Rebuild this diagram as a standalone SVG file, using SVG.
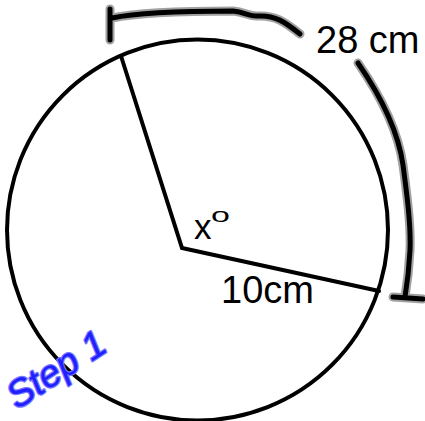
<svg xmlns="http://www.w3.org/2000/svg" width="425" height="421" viewBox="0 0 425 421">
<style>
.ln{fill:none;stroke:#000;stroke-width:4;stroke-linecap:round}
.halo{fill:none;stroke:#8a8a8a;stroke-width:9;stroke-linecap:round;stroke-linejoin:round;opacity:0.8}
.ink{fill:none;stroke:#000;stroke-width:5;stroke-linecap:round;stroke-linejoin:round}
.lbl{font-family:"Liberation Sans",Arial,sans-serif;fill:#000}
</style>
<rect width="425" height="421" fill="#fff"/>
<g id="circle">
<circle cx="197.5" cy="230" r="190.5" class="ln"/>
</g>
<g id="connectors">
<path class="ln" d="M121,56 L182,248 L379,291"/>
</g>
<g id="arc-marks">
<path class="halo" d="M110,9 L110,40 M112,18 C140,12 200,11 233,11 C245,12 250,17 258,16 C275,15 285,22 300,34"/>
<path class="ink" d="M110,9 L110,40 M112,18 C140,12 200,11 233,11 C245,12 250,17 258,16 C275,15 285,22 300,34"/>
<path class="halo" d="M358,63 C380,95 398,130 403,165 C407,195 411,225 410,250 C409,270 407,285 405,297 M393,297 L423,299"/>
<path class="ink" d="M358,63 C380,95 398,130 403,165 C407,195 411,225 410,250 C409,270 407,285 405,297 M393,297 L423,299"/>
</g>
<g id="labels">
<text class="lbl" x="316" y="53" font-size="38">28 cm</text>
<text class="lbl" x="221" y="303" font-size="38">10cm</text>
<text class="lbl" x="194" y="239" font-size="35">x</text>
<text class="lbl" font-size="20" transform="translate(211,222) scale(1.7,1)">o</text>
</g>
<g id="step">
<text x="17" y="410" transform="rotate(-33 17 410)" font-family="Liberation Sans,sans-serif" font-style="italic" font-size="38" fill="#2020ff" stroke="#7878ff" stroke-width="2.5" paint-order="stroke" stroke-linejoin="round">Step 1</text>
</g>
</svg>
